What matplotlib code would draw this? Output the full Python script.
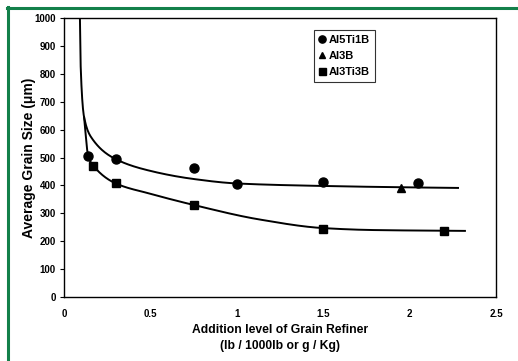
import numpy as np
import matplotlib
matplotlib.use("Agg")
import matplotlib.pyplot as plt
from matplotlib.lines import Line2D

# Data
al5ti1b_x = [0.14, 0.30, 0.75, 1.00, 1.50, 2.05]
al5ti1b_y = [505, 493, 462, 405, 414, 409]
al3b_x = [1.95]
al3b_y = [391]
al3ti3b_x = [0.17, 0.30, 0.75, 1.50, 2.20]
al3ti3b_y = [470, 407, 330, 244, 237]

# Trend curves
upper_cx = [0.092, 0.097, 0.116, 0.16, 0.30, 0.50, 0.75, 1.00, 1.50, 2.00, 2.28]
upper_cy = [1000, 814, 645, 570, 494, 452, 423, 407, 398, 393, 391]
lower_cx = [0.116, 0.14, 0.17, 0.30, 0.50, 0.75, 1.13, 1.50, 1.79, 2.32]
lower_cy = [645, 505, 470, 407, 370, 330, 278, 247, 240, 237]

x_ticks = [0, 0.5, 1, 1.5, 2, 2.5]
x_ticklabels = ["0", "0.5", "1", "1.5", "2", "2.5"]
y_ticks = list(range(0, 1001, 100))


def pchip(x, y, xn):
    x = np.asarray(x, float); y = np.asarray(y, float)
    h = np.diff(x); d = np.diff(y) / h
    n = len(x); m = np.zeros(n)
    for k in range(1, n - 1):
        if d[k - 1] * d[k] > 0:
            w1 = 2 * h[k] + h[k - 1]; w2 = h[k] + 2 * h[k - 1]
            m[k] = (w1 + w2) / (w1 / d[k - 1] + w2 / d[k])
    m[0] = d[0]; m[-1] = d[-1]
    idx = np.clip(np.searchsorted(x, xn) - 1, 0, n - 2)
    t = (xn - x[idx]) / h[idx]
    h00 = 2 * t**3 - 3 * t**2 + 1; h10 = t**3 - 2 * t**2 + t
    h01 = -2 * t**3 + 3 * t**2; h11 = t**3 - t**2
    return h00 * y[idx] + h10 * h[idx] * m[idx] + h01 * y[idx + 1] + h11 * h[idx] * m[idx + 1]


plt.rcParams['font.family'] = ['Liberation Sans', 'DejaVu Sans']
fig = plt.figure(figsize=(5.18, 3.61), dpi=100)
ax = fig.add_axes([0.1236, 0.1773, 0.834, 0.7727])

ux = np.linspace(upper_cx[0], upper_cx[-1], 500)
lx = np.linspace(lower_cx[0], lower_cx[-1], 500)
ax.plot(ux, pchip(upper_cx, upper_cy, ux), color='black', lw=1.4)
ax.plot(lx, pchip(lower_cx, lower_cy, lx), color='black', lw=1.4)

ax.plot(al5ti1b_x, al5ti1b_y, 'o', color='black', ms=6.5, label='Al5Ti1B')
ax.plot(al3b_x, al3b_y, '^', color='black', ms=6, label='Al3B')
ax.plot(al3ti3b_x, al3ti3b_y, 's', color='black', ms=6.3, label='Al3Ti3B')

ax.set_xlim(0, 2.5)
ax.set_ylim(0, 1000)
ax.set_xticks(x_ticks)
ax.set_xticklabels(x_ticklabels)
ax.set_yticks(y_ticks)
for s in ax.spines.values():
    s.set_linewidth(1.0)
    s.set_color('black')
ax.tick_params(axis='x', length=0, pad=9, labelsize=7)
ax.tick_params(axis='y', length=3, direction='out', width=0.8, pad=3, labelsize=7)
for lab in ax.get_xticklabels() + ax.get_yticklabels():
    lab.set_fontweight('bold')

ax.set_ylabel('Average Grain Size (\u03bcm)', fontsize=10, fontweight='bold', labelpad=-1)
ax.set_xlabel('Addition level of Grain Refiner\n(lb / 1000lb or g / Kg)', fontsize=8.7,
              fontweight='bold', labelpad=3, linespacing=1.5)

leg = ax.legend(loc='upper left', bbox_to_anchor=(0.5787, 0.957), borderaxespad=0,
                fontsize=8, frameon=True, fancybox=False, edgecolor='black',
                handlelength=0.6, handletextpad=0.3, borderpad=0.45, labelspacing=0.55,
                markerscale=0.8)
leg.get_frame().set_linewidth(0.8)
for t in leg.get_texts():
    t.set_fontweight('bold')

green = '#13804a'
fig.add_artist(Line2D([7 / 518, 1.0], [1 - 8 / 361, 1 - 8 / 361], transform=fig.transFigure,
                      color=green, lw=2.2))
fig.add_artist(Line2D([7.5 / 518, 7.5 / 518], [0, 1 - 7 / 361], transform=fig.transFigure,
                      color=green, lw=2.2))

fig.savefig('out.png', dpi=100)
